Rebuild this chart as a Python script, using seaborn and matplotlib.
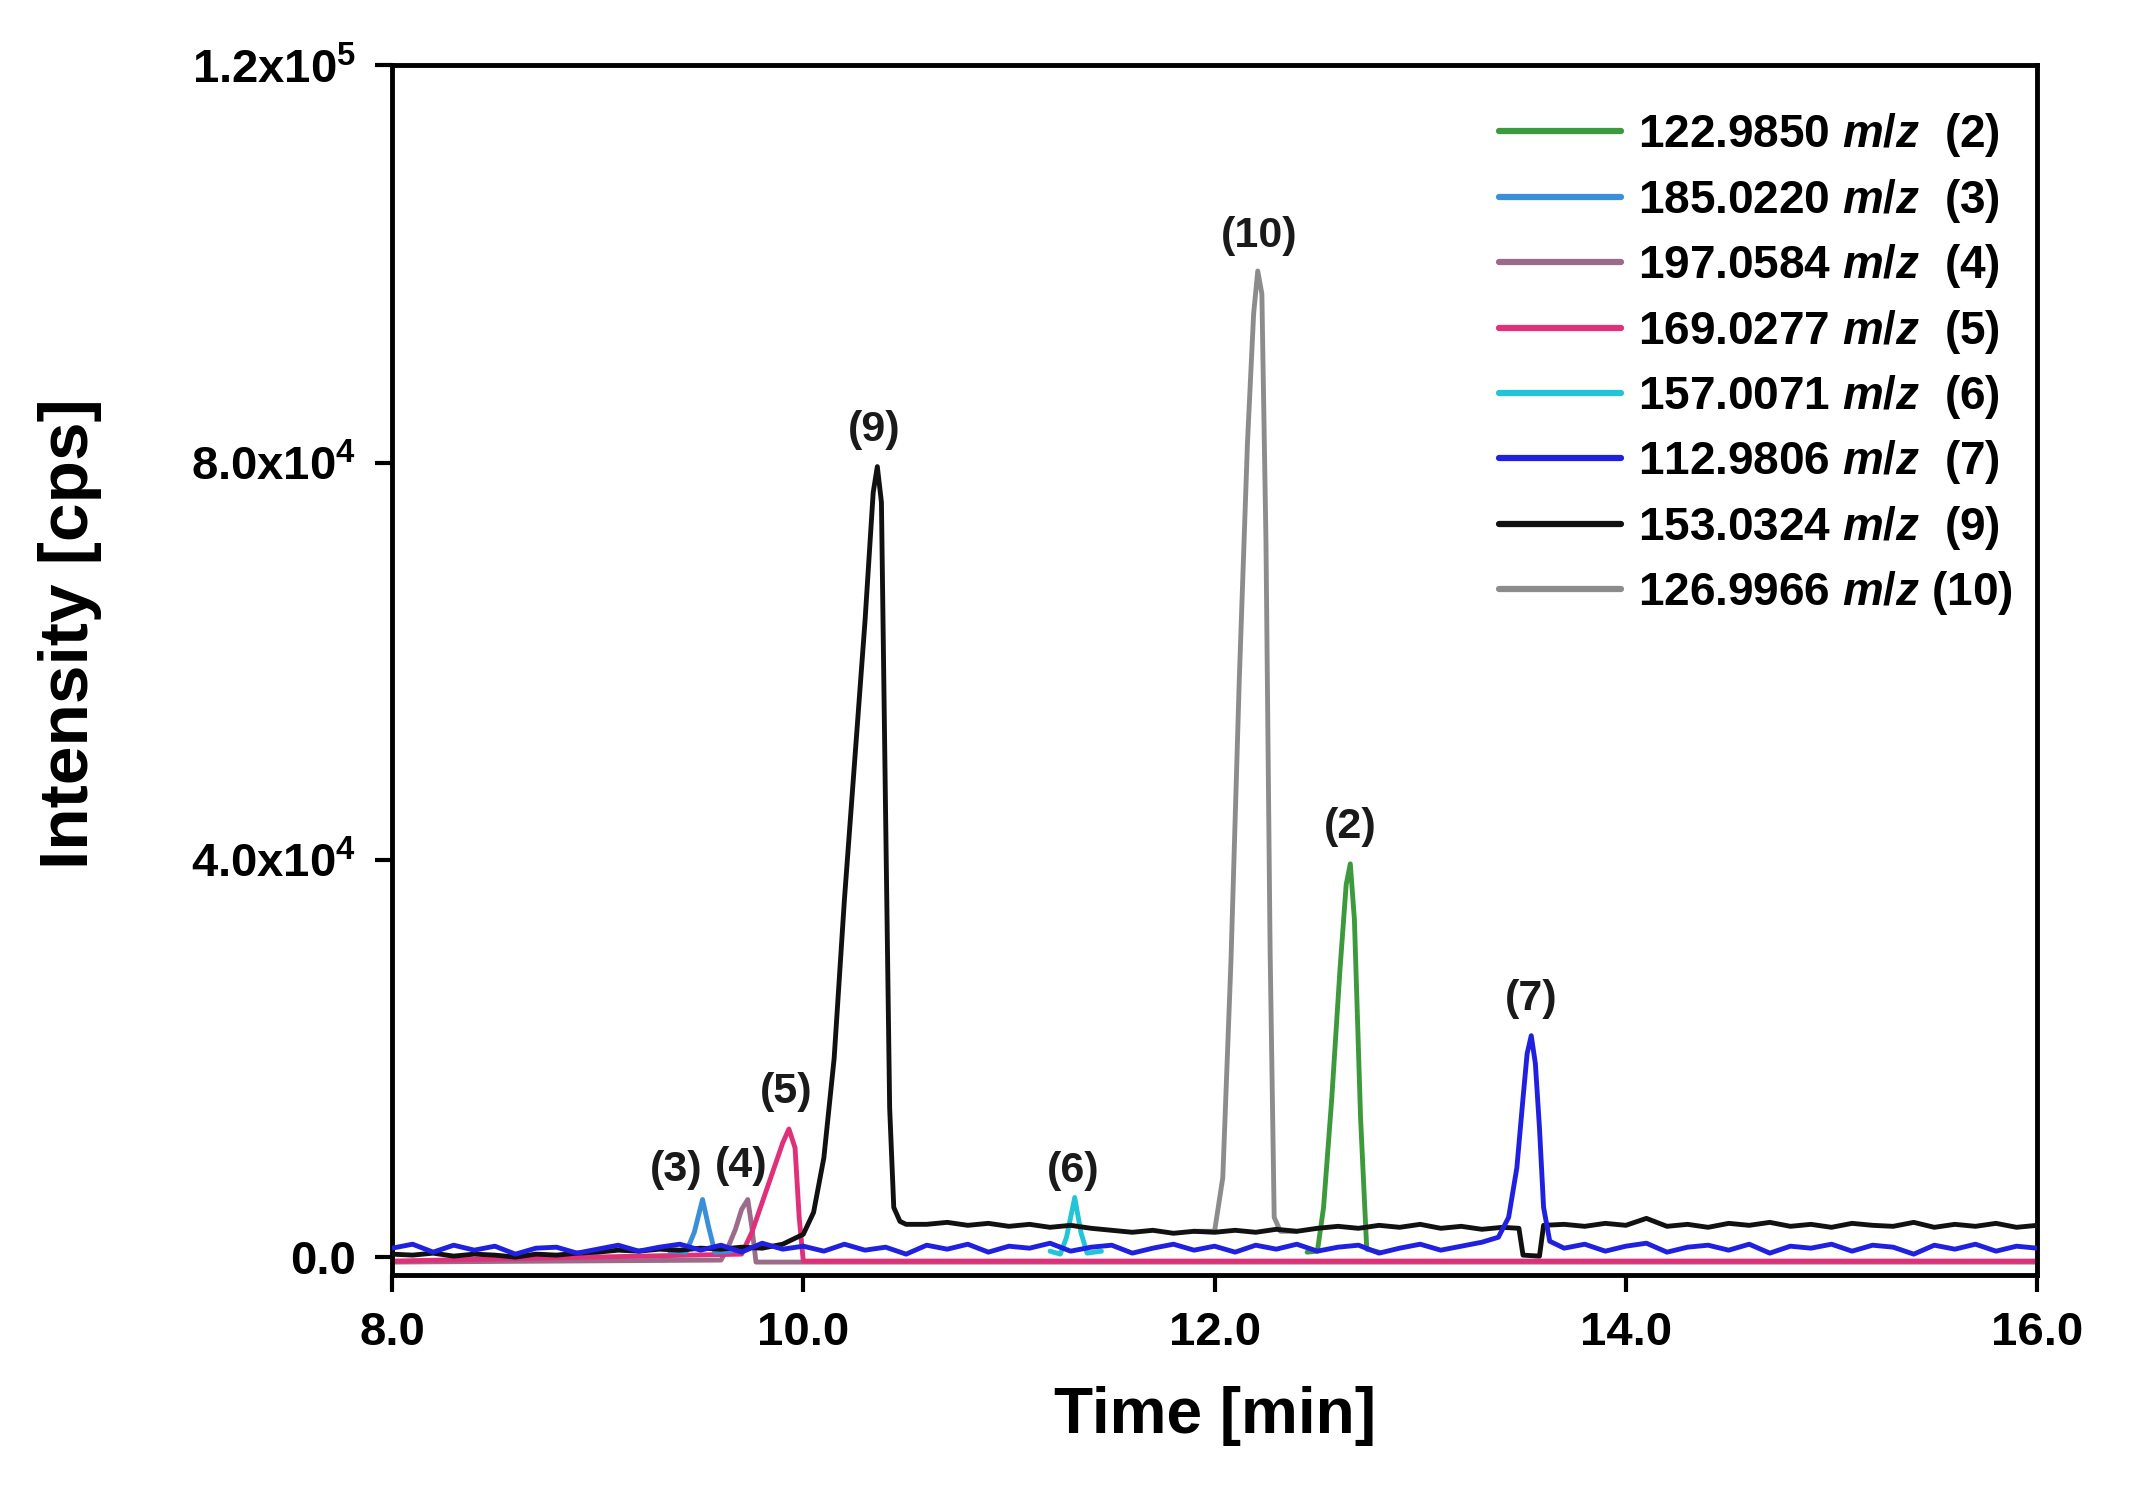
import numpy as np
import pandas as pd
import matplotlib
matplotlib.use("Agg")
import matplotlib.pyplot as plt
import seaborn as sns

# ---- data (time in min, intensity in cps) ----
# (9) 153.0324 m/z, black
t9 = [8.0, 8.1, 8.2, 8.3, 8.4, 8.5, 8.6, 8.7, 8.8, 8.9, 9.0, 9.1, 9.2, 9.3, 9.4,
      9.5, 9.6, 9.7, 9.8, 9.9, 10.0, 10.05, 10.1, 10.15, 10.2, 10.25, 10.3, 10.34,
      10.36, 10.38, 10.40, 10.42, 10.44, 10.47, 10.5, 10.6, 10.7, 10.8, 10.9, 11.0,
      11.1, 11.2, 11.3, 11.4, 11.5, 11.6, 11.7, 11.8, 11.9, 12.0, 12.1, 12.2, 12.3,
      12.4, 12.5, 12.6, 12.7, 12.8, 12.9, 13.0, 13.1, 13.2, 13.3, 13.4, 13.48, 13.50,
      13.58, 13.60, 13.7, 13.8, 13.9, 14.0, 14.1, 14.2, 14.3, 14.4, 14.5, 14.6, 14.7,
      14.8, 14.9, 15.0, 15.1, 15.2, 15.3, 15.4, 15.5, 15.6, 15.7, 15.8, 15.9, 16.0]
i9 = [300, 200, 400, 100, 300, 200, 0, 300, 200, 400, 500, 700, 600, 800, 700,
      900, 800, 1000, 900, 1300, 2300, 4500, 10000, 20000, 36000, 50000, 64000, 77000,
      79600, 76000, 45000, 15000, 5000, 3600, 3300, 3300, 3500, 3200, 3400, 3100,
      3300, 3000, 3200, 2900, 2700, 2500, 2700, 2400, 2600, 2500, 2700, 2500, 2800,
      2600, 2900, 3100, 2900, 3200, 3000, 3300, 2900, 3100, 2800, 3000, 2900, 200,
      100, 3200, 3300, 3100, 3400, 3200, 3900, 3100, 3300, 3000, 3400, 3200, 3500,
      3100, 3300, 3000, 3400, 3200, 3100, 3500, 3000, 3300, 3100, 3400, 3000, 3200]

# (7) 112.9806 m/z, blue
t7 = [8.0, 8.1, 8.2, 8.3, 8.4, 8.5, 8.6, 8.7, 8.8, 8.9, 9.0, 9.1, 9.2, 9.3, 9.4,
      9.5, 9.6, 9.7, 9.8, 9.9, 10.0, 10.1, 10.2, 10.3, 10.4, 10.5, 10.6, 10.7, 10.8,
      10.9, 11.0, 11.1, 11.2, 11.3, 11.4, 11.5, 11.6, 11.7, 11.8, 11.9, 12.0, 12.1,
      12.2, 12.3, 12.4, 12.5, 12.6, 12.7, 12.8, 12.9, 13.0, 13.1, 13.2, 13.3, 13.38,
      13.43, 13.47, 13.50, 13.52, 13.54, 13.56, 13.58, 13.60, 13.63, 13.7, 13.8, 13.9,
      14.0, 14.1, 14.2, 14.3, 14.4, 14.5, 14.6, 14.7, 14.8, 14.9, 15.0, 15.1, 15.2,
      15.3, 15.4, 15.5, 15.6, 15.7, 15.8, 15.9, 16.0]
i7 = [900, 1300, 500, 1200, 700, 1100, 300, 900, 1000, 400, 800, 1200, 600, 1000, 1300,
      700, 1200, 500, 1400, 800, 1100, 600, 1300, 700, 1000, 300, 1200, 800, 1300,
      500, 1100, 900, 1400, 600, 1000, 1200, 400, 900, 1300, 700, 1100, 500,
      1200, 800, 1300, 600, 1000, 1200, 400, 900, 1300, 700, 1100, 1500, 2000,
      4000, 9000, 16000, 20500, 22300, 19500, 13000, 5000, 1600, 900, 1300, 600,
      1100, 1400, 500, 1000, 1200, 700, 1300, 400, 1100, 900, 1300, 600, 1200,
      1000, 300, 1200, 800, 1300, 600, 1100, 900]

# (10) 126.9966 m/z, grey
t10 = [11.9, 12.0, 12.04, 12.08, 12.12, 12.16, 12.19, 12.21, 12.23, 12.25, 12.27, 12.29, 12.32, 12.4]
i10 = [2600, 2600, 8000, 30000, 58000, 82000, 95000, 99300, 97000, 72000, 31000, 4000, 2600, 2600]

# (2) 122.9850 m/z, green
t2 = [12.45, 12.5, 12.53, 12.57, 12.61, 12.64, 12.66, 12.68, 12.71, 12.74, 12.8]
i2 = [500, 600, 5000, 16000, 29000, 37500, 39600, 34000, 14000, 800, 500]

# (5) 169.0277 m/z, pink
t5 = [8.0, 9.70, 9.75, 9.80, 9.85, 9.90, 9.93, 9.96, 9.98, 10.0, 16.0]
i5 = [-400, 300, 2500, 5500, 8500, 11500, 12900, 11000, 4000, -400, -400]

# (4) 197.0584 m/z, mauve
t4 = [8.0, 9.60, 9.63, 9.67, 9.70, 9.73, 9.75, 9.77, 16.0]
i4 = [-500, -300, 800, 2800, 4800, 5800, 3000, -500, -500]

# (3) 185.0220 m/z, light blue
t3 = [9.35, 9.43, 9.47, 9.51, 9.54, 9.57, 9.65]
i3 = [600, 500, 2500, 5800, 3000, 500, 600]

# (6) 157.0071 m/z, cyan
t6 = [11.2, 11.25, 11.28, 11.32, 11.35, 11.38, 11.45]
i6 = [600, 300, 2000, 6000, 2500, 400, 600]

compound = ["(2)", "(3)", "(4)", "(5)", "(6)", "(7)", "(9)", "(10)"]
mz = ["122.9850", "185.0220", "197.0584", "169.0277", "157.0071", "112.9806", "153.0324", "126.9966"]
times = [t2, t3, t4, t5, t6, t7, t9, t10]
intens = [i2, i3, i4, i5, i6, i7, i9, i10]
colors = ["#3c9a3c", "#3a8fd9", "#9c6b8a", "#e0307a", "#22c5d8", "#2020e0", "#111111", "#8c8c8c"]
zorders = [3, 2, 1, 1, 2, 5, 4, 3]

x_ticks = [8, 10, 12, 14, 16]
x_ticklabels = ["8.0", "10.0", "12.0", "14.0", "16.0"]
y_ticks = [0, 40000, 80000, 120000]
y_ticklabels = ["0.0", "4.0x10$^{4}$", "8.0x10$^{4}$", "1.2x10$^{5}$"]

# label offsets (points) of the peak tags relative to the apex
tag_offsets = {"(2)": (0, 12), "(3)": (-19, 7), "(4)": (-5, 10), "(5)": (-2, 12),
               "(6)": (-1, 5), "(7)": (0, 12), "(9)": (-2, 12), "(10)": (1, 11)}

# ---- style ----
sns.set_style("ticks")
plt.rcParams["font.family"] = ["Liberation Sans", "DejaVu Sans"]
plt.rcParams["font.weight"] = "bold"
plt.rcParams["text.color"] = "black"
plt.rcParams["axes.labelcolor"] = "black"
plt.rcParams["xtick.color"] = "black"
plt.rcParams["ytick.color"] = "black"
plt.rcParams["mathtext.fontset"] = "custom"
plt.rcParams["mathtext.rm"] = "Liberation Sans:bold"
plt.rcParams["mathtext.it"] = "Liberation Sans:italic:bold"
plt.rcParams["mathtext.bf"] = "Liberation Sans:bold"

fig = plt.figure(figsize=(21.34, 14.86), dpi=100)
ax = fig.add_axes([0.1837, 0.142, 0.7709, 0.814])

for k in range(len(compound)):
    df = pd.DataFrame({"time": times[k], "intensity": intens[k]})
    sep = "  " if len(compound[k]) == 3 else " "
    sns.lineplot(data=df, x="time", y="intensity", ax=ax, color=colors[k],
                 lw=3.5, estimator=None, sort=False, zorder=zorders[k],
                 label=mz[k] + " $m/z$" + sep + compound[k])

# peak tags
for k in range(len(compound)):
    j = int(np.argmax(intens[k]))
    ax.annotate(compound[k], xy=(times[k][j], intens[k][j]), xytext=tag_offsets[compound[k]],
                textcoords="offset points", ha="center", va="bottom",
                fontsize=31, fontweight="bold", color="#1a1a1a")

ax.set_xlim(8, 16)
ax.set_ylim(-1800, 120000)
ax.set_xticks(x_ticks)
ax.set_xticklabels(x_ticklabels)
ax.set_yticks(y_ticks)
ax.set_yticklabels(y_ticklabels)
ax.tick_params(axis="both", direction="out", length=12, width=3, labelsize=34, pad=14,
               color="black", labelcolor="black")
for s in ax.spines.values():
    s.set_linewidth(3.5)
    s.set_color("black")
    s.set_visible(True)

ax.set_xlabel("Time [min]", fontsize=46, fontweight="bold", color="black")
ax.set_ylabel("Intensity [cps]", fontsize=50, fontweight="bold", color="black")
ax.xaxis.set_label_coords(0.5, -0.092)
ax.yaxis.set_label_coords(-0.176, 0.53)

leg = ax.legend(loc="upper right", bbox_to_anchor=(0.985, 0.962), frameon=False,
                fontsize=33, handlelength=2.67, handletextpad=0.36, labelspacing=0.38,
                borderpad=0, borderaxespad=0)
for ln in leg.get_lines():
    ln.set_linewidth(4.5)
for txt in leg.get_texts():
    txt.set_color("black")

fig.savefig("out.png", dpi=100, facecolor="white")
